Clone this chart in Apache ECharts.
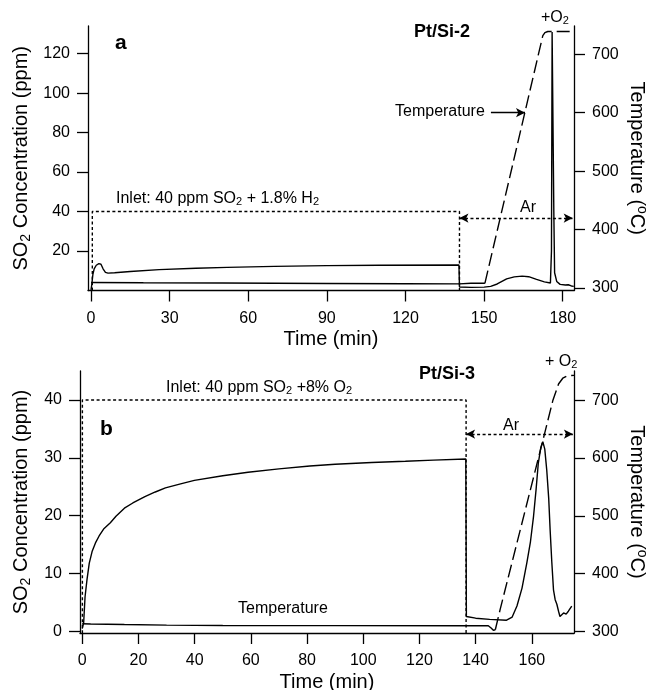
<!DOCTYPE html>
<html lang="en">
<head>
<meta charset="UTF-8">
<title>SO2 concentration - Pt/Si-2, Pt/Si-3</title>
<script src="https://cdn.jsdelivr.net/npm/echarts@6/dist/echarts.min.js"></script>
<style>
    html, body { margin: 0; padding: 0; background: #fff; }
    #main { width: 647px; height: 690px; }
</style>
</head>
<body>
<div id="main"></div>
<script>
// ---- panel a : Pt/Si-2, inlet SO2 + H2 ----
var so2A = [[0, 0.3], [0.3, 3], [0.7, 8], [1.2, 11], [2, 12.8], [3, 13.6], [3.8, 13.3], [4.6, 11], [5.5, 9.2],
    [6.5, 8.8], [9, 9.0], [15, 9.6], [26, 10.6], [40, 11.3], [52, 11.7], [70, 12.2], [90, 12.6], [110, 12.8],
    [140.4, 12.9], [140.6, 1.8], [145, 1.6], [150, 1.7], [152.5, 2.1], [155, 3.3], [158.6, 5.9], [161.5, 6.9],
    [164.5, 7.3], [167, 7.0], [170, 5.6], [173, 4.4], [175.3, 3.8], [175.7, 20], [175.95, 131], [176.35, 131],
    [176.6, 40], [176.9, 9], [177.7, 4.6], [179, 3.1], [181, 2.8], [182.1, 2.9], [182.7, 3.3], [183.3, 2.3], [184.2, 2.1]];
var tempAFlat = [[0, 309.5], [20, 309], [50, 308.5], [90, 307.8], [120, 307.3], [140.5, 307], [145, 308], [150.3, 308]];
var tempARamp = [[150.3, 308], [161, 513], [172.4, 732], [173.2, 737], [174.3, 739], [184.3, 739]];
var inletA = [[0.5, 0], [0.5, 40], [140.6, 40], [140.6, 0]];
var arA = [[140.6, 36.7], [183.8, 36.7]];
var tempArrowA = [[152.6, 600], [165.6, 600]];
var xTicksA = [0, 30, 60, 90, 120, 150, 180];
var yTicksA = [20, 40, 60, 80, 100, 120];

// ---- panel b : Pt/Si-3, inlet SO2 + O2 ----
var so2B = [[0, 0.5], [0.5, 1.5], [1, 6], [1.7, 9], [2.5, 11.8], [3.5, 13.8], [4.7, 15.3], [6, 16.5], [7.6, 17.7],
    [10, 18.8], [12, 19.9], [15, 21.3], [18, 22.2], [22.3, 23.3], [26, 24.1], [29.6, 24.8], [35, 25.5], [39.9, 26.1],
    [50, 26.9], [59, 27.5], [70, 28.1], [81, 28.6], [90, 28.9], [103, 29.2], [115, 29.4], [125, 29.6], [136.5, 29.8],
    [136.7, 2.6], [140, 2.3], [145, 2.1], [151, 1.95], [153, 2.5], [154.7, 4.4], [156.5, 7.5], [158.2, 11.8],
    [159.5, 15.5], [160.6, 19.9], [161.5, 24.5], [162.3, 29.1], [163.2, 31.8], [163.9, 32.8], [164.6, 31.5],
    [165.3, 27.9], [166, 23], [166.5, 17.6], [167.1, 12], [167.7, 7.2], [168.3, 5.5], [168.9, 4.7], [169.5, 3.5],
    [170, 2.6], [170.6, 2.9], [171.3, 3.2], [172.2, 3.0], [173, 3.5], [173.6, 3.2], [174.2, 4.4]];
var tempBFlat = [[0, 313.5], [3, 313], [15, 312], [30, 311], [50, 310.5], [90, 310.2], [136, 310], [144.5, 310],
    [145.5, 306], [146.3, 302], [147, 303]];
var tempBRamp = [[147, 303], [148.7, 337.8], [164.4, 639.7], [167.5, 700], [169.5, 728], [171, 738], [172.5, 742], [175, 743]];
var inletB = [[0.05, -0.3], [0.05, 40], [136.6, 40], [136.6, -0.3]];
var arB = [[136.6, 34.1], [174.6, 34.1]];
var xTicksB = [0, 20, 40, 60, 80, 100, 120, 140, 160];
var yTicksB = [0, 10, 20, 30, 40];

var tTicks = [300, 400, 500, 600, 700];

var font = 'Liberation Sans, Arial, Helvetica, sans-serif';
var black = '#000';
var myChart = echarts.init(document.getElementById('main'));

var richSub = {
    sub: { fontSize: 14, lineHeight: 12, verticalAlign: 'bottom', fontFamily: font, color: black },
    sup: { fontSize: 14, lineHeight: 8, verticalAlign: 'top', fontFamily: font, color: black }
};

function axisBase(grid, min, max, ticks) {
    return {
        type: 'value',
        gridIndex: grid,
        min: min,
        max: max,
        splitLine: { show: false },
        axisLine: { show: true, onZero: false, lineStyle: { color: black, width: 1.3 } },
        axisTick: { show: true, length: 11, customValues: ticks, lineStyle: { color: black, width: 1.3 } },
        axisLabel: { customValues: ticks, margin: 18, fontSize: 16, color: black, fontFamily: font },
        nameLocation: 'middle',
        nameMoveOverlap: false,
        nameTextStyle: { fontSize: 20, color: black, fontFamily: font, lineHeight: 24, rich: richSub }
    };
}

function xAxis(grid, min, max, ticks) {
    var ax = axisBase(grid, min, max, ticks);
    ax.position = 'bottom';
    ax.axisLabel.margin = 20;
    ax.name = 'Time (min)';
    ax.nameGap = 37;
    return ax;
}

function yLeft(grid, min, max, ticks, gap) {
    var ax = axisBase(grid, min, max, ticks);
    ax.position = 'left';
    ax.name = 'SO{sub|2} Concentration (ppm)';
    ax.nameGap = gap;
    return ax;
}

function yRight(grid, min, max, ticks) {
    var ax = axisBase(grid, min, max, ticks);
    ax.position = 'right';
    ax.name = 'Temperature ({sup|o}C)';
    ax.nameGap = 51;
    ax.nameRotate = -90;
    return ax;
}

function solid(x, y, data) {
    return {
        type: 'line', xAxisIndex: x, yAxisIndex: y, data: data, symbol: 'none', silent: true,
        lineStyle: { color: black, width: 1.4 }
    };
}

function dashed(x, y, data, dash) {
    var s = solid(x, y, data);
    s.lineStyle.type = dash;
    return s;
}

function arrowLine(x, y, data, both, dash) {
    return {
        type: 'line', xAxisIndex: x, yAxisIndex: y, data: [], symbol: 'none', silent: true,
        markLine: {
            silent: true,
            symbol: both ? ['arrow', 'arrow'] : ['none', 'arrow'],
            symbolSize: [7, 9],
            label: { show: false },
            lineStyle: { color: black, width: 1.3, type: dash },
            data: [[{ coord: data[0] }, { coord: data[1] }]]
        }
    };
}

function text(x, y, s, size, bold) {
    return {
        type: 'text', x: x, y: y, silent: true,
        style: {
            text: s, fontSize: size, fontWeight: bold ? 'bold' : 'normal', fontFamily: font, fill: black,
            align: 'left', verticalAlign: 'middle',
            rich: {
                sub: { fontSize: 11, lineHeight: 9, verticalAlign: 'bottom', fontFamily: font, fill: black }
            }
        }
    };
}

var dots = [3, 2.5];

var option = {
    animation: false,
    backgroundColor: '#fff',
    grid: [
        { left: 88, top: 26, width: 486, height: 264.5, outerBoundsMode: 'none' },
        { left: 80, top: 371, width: 494, height: 262, outerBoundsMode: 'none' }
    ],
    xAxis: [
        xAxis(0, -1.15, 184.3, xTicksA),
        xAxis(1, -0.8, 175, xTicksB)
    ],
    yAxis: [
        yLeft(0, 0, 134, yTicksA, 55),
        yRight(0, 295.7, 748.4, tTicks),
        yLeft(1, -0.26, 45, yTicksB, 47),
        yRight(1, 297.4, 750.5, tTicks)
    ],
    series: [
        solid(0, 0, so2A),
        solid(0, 1, tempAFlat),
        dashed(0, 1, tempARamp, [13, 5]),
        dashed(0, 0, inletA, dots),
        arrowLine(0, 0, arA, true, dots),
        arrowLine(0, 1, tempArrowA, false, 'solid'),

        solid(1, 2, so2B),
        solid(1, 3, tempBFlat),
        dashed(1, 3, tempBRamp, [13, 5]),
        dashed(1, 2, inletB, dots),
        arrowLine(1, 2, arB, true, dots)
    ],
    graphic: [
        text(115, 43, 'a', 21, true),
        text(414, 32, 'Pt/Si-2', 18, true),
        text(541, 18, '+O{sub|2}', 16),
        text(395, 112, 'Temperature', 16),
        text(116, 199, 'Inlet: 40 ppm SO{sub|2} + 1.8% H{sub|2}', 16),
        text(520, 208, 'Ar', 16),

        text(100, 429, 'b', 21, true),
        text(419, 374, 'Pt/Si-3', 18, true),
        text(545, 362, '+ O{sub|2}', 16),
        text(166, 388, 'Inlet: 40 ppm SO{sub|2} +8% O{sub|2}', 16),
        text(503, 426, 'Ar', 16),
        text(238, 609, 'Temperature', 16)
    ]
};

myChart.setOption(option);
</script>
</body>
</html>
